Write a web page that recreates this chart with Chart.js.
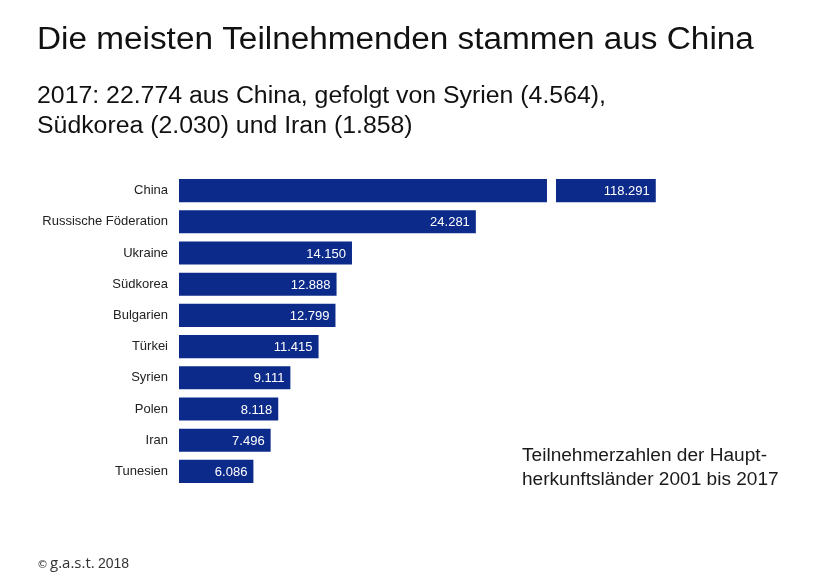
<!DOCTYPE html>
<html lang="de">
<head>
<meta charset="utf-8">
<script src="https://cdn.jsdelivr.net/npm/chart.js@4/dist/chart.umd.min.js"></script>
<style>
  html, body { margin: 0; padding: 0; background: #fff; }
  #wrap { width: 831px; height: 585px; position: relative; }
</style>
</head>
<body>
<div id="wrap"><canvas id="myChart" width="831" height="585"></canvas></div>
<script>
const countries = [
    "China",
    "Russische Föderation",
    "Ukraine",
    "Südkorea",
    "Bulgarien",
    "Türkei",
    "Syrien",
    "Polen",
    "Iran",
    "Tunesien"
];
const participants = [118291, 24281, 14150, 12888, 12799, 11415, 9111, 8118, 7496, 6086];

// broken axis: bars longer than the cap are cut, with a gap drawn at breakAt
const axisMax = 40000;
const barCap = 39000;
const breakAt = 30100;

const titleText = "Die meisten Teilnehmenden stammen aus China";
const subtitleLines = [
    "2017: 22.774 aus China, gefolgt von Syrien (4.564),",
    "Südkorea (2.030) und Iran (1.858)"
];
const noteLines = ["Teilnehmerzahlen der Haupt-", "herkunftsländer 2001 bis 2017"];

const barColor = '#0c2a8a';
const fmt = new Intl.NumberFormat('de-DE');

const ctx = document.getElementById('myChart').getContext('2d');

// the source text is a little wider than Arial, so stretch it sideways
function wideText(c, text, x, y, sx) {
    c.save();
    c.translate(x, y);
    c.scale(sx, 1);
    c.fillText(text, 0, 0);
    c.restore();
}

const barExtras = {
    id: 'barExtras',
    afterDatasetsDraw(chart) {
        const c = chart.ctx;
        const meta = chart.getDatasetMeta(0);
        const x = chart.scales.x;
        c.save();
        meta.data.forEach((bar, i) => {
            const v = participants[i];
            const h = bar.height;
            if (v > barCap) {
                const gx = x.getPixelForValue(breakAt);
                c.fillStyle = '#ffffff';
                c.fillRect(gx, bar.y - h / 2 - 1, 9, h + 2);
            }
            c.fillStyle = '#ffffff';
            c.font = '13px "Liberation Sans", Arial, sans-serif';
            c.textAlign = 'right';
            c.textBaseline = 'middle';
            c.fillText(fmt.format(v), bar.x - 6, bar.y + 1);
        });
        c.restore();
    }
};

const textExtras = {
    id: 'textExtras',
    afterDraw(chart) {
        const c = chart.ctx;
        c.save();
        c.fillStyle = '#111';
        c.textBaseline = 'alphabetic';
        c.textAlign = 'left';
        c.font = '31px "Liberation Sans", Arial, sans-serif';
        wideText(c, titleText, 37, 49, 1.075);
        c.font = '23px "Liberation Sans", Arial, sans-serif';
        subtitleLines.forEach((t, i) => wideText(c, t, 37, 103 + i * 30, 1.08));
        c.font = '18px "Liberation Sans", Arial, sans-serif';
        c.fillStyle = '#1a1a1a';
        noteLines.forEach((t, i) => wideText(c, t, 522, 461 + i * 24, 1.06));
        c.fillStyle = '#333';
        c.font = '11px "DejaVu Sans", sans-serif';
        c.fillText('©', 37, 568);
        c.font = '15px "Open Sans", sans-serif';
        c.fillText('g.a.s.t.', 50, 568);
        c.font = '14px "Liberation Sans", Arial, sans-serif';
        c.fillText('2018', 98, 568);
        c.restore();
    }
};

const data = {
    labels: countries,
    datasets: [
        {
            data: participants.map(v => Math.min(v, barCap)),
            backgroundColor: barColor,
            borderWidth: 0,
            categoryPercentage: 0.74,
            barPercentage: 1.0
        }
    ]
};

const config = {
    type: 'bar',
    data: data,
    plugins: [barExtras, textExtras],
    options: {
        indexAxis: 'y',
        responsive: false,
        animation: false,
        layout: {
            padding: { left: 30, right: 163, top: 175, bottom: 98 }
        },
        plugins: {
            legend: { display: false },
            tooltip: { enabled: false }
        },
        scales: {
            x: {
                display: false,
                min: 0,
                max: axisMax
            },
            y: {
                grid: { display: false },
                border: { display: false },
                ticks: {
                    color: '#222',
                    padding: 3,
                    font: { family: '"Liberation Sans", Arial, sans-serif', size: 13 }
                },
                afterFit(scale) {
                    scale.width = 149;
                }
            }
        }
    }
};

const myChart = new Chart(ctx, config);
</script>
</body>
</html>
